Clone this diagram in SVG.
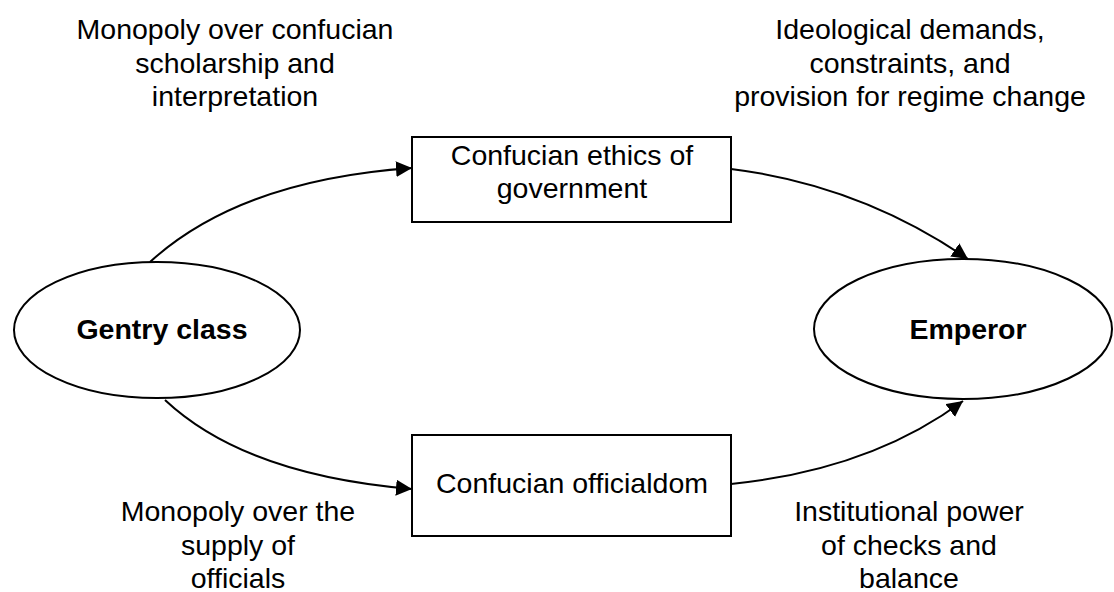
<svg xmlns="http://www.w3.org/2000/svg" width="1114" height="592" viewBox="0 0 1114 592">
<defs>
<style>
.shape{fill:#fff;stroke:#000;stroke-width:2}
.t{font-family:"Liberation Sans",Arial,sans-serif;font-size:28.5px;fill:#000;text-anchor:middle}
.b{font-weight:bold}
.edge{fill:none;stroke:#000;stroke-width:2}
</style>
<marker id="arr" markerUnits="userSpaceOnUse" markerWidth="20" markerHeight="18" refX="16" refY="8" orient="auto">
<path d="M0,0 L16,8 L0,16 Z" fill="#000"/>
</marker>
</defs>
<rect width="1114" height="592" fill="#fff"/>
<g id="labels">
<text class="t" x="235" y="39">Monopoly over confucian</text>
<text class="t" x="235" y="73">scholarship and</text>
<text class="t" x="235" y="106">interpretation</text>
<text class="t" x="910" y="39">Ideological demands,</text>
<text class="t" x="910" y="73">constraints, and</text>
<text class="t" x="910" y="106">provision for regime change</text>
<text class="t" x="238" y="521">Monopoly over the</text>
<text class="t" x="238" y="555">supply of</text>
<text class="t" x="238" y="588">officials</text>
<text class="t" x="909" y="521">Institutional power</text>
<text class="t" x="909" y="555">of checks and</text>
<text class="t" x="909" y="588">balance</text>
</g>
<g id="connectors">
<path class="edge" d="M150,262 Q240,180 412,168" marker-end="url(#arr)"/>
<path class="edge" d="M731,169 Q860,185 968,259" marker-end="url(#arr)"/>
<path class="edge" d="M165,400 Q245,475 412,489" marker-end="url(#arr)"/>
<path class="edge" d="M731,484 Q870,470 963,401" marker-end="url(#arr)"/>
</g>
<g id="gentry">
<ellipse class="shape" cx="157" cy="330" rx="143" ry="68"/>
<text class="t b" x="162" y="339">Gentry class</text>
</g>
<g id="emperor">
<ellipse class="shape" cx="963" cy="329" rx="149" ry="70"/>
<text class="t b" x="968" y="339">Emperor</text>
</g>
<g id="ethics">
<rect class="shape" x="412" y="137" width="319" height="85"/>
<text class="t" x="572" y="165">Confucian ethics of</text>
<text class="t" x="572" y="198">government</text>
</g>
<g id="officialdom">
<rect class="shape" x="412" y="435" width="319" height="101"/>
<text class="t" x="572" y="493">Confucian officialdom</text>
</g>
</svg>
